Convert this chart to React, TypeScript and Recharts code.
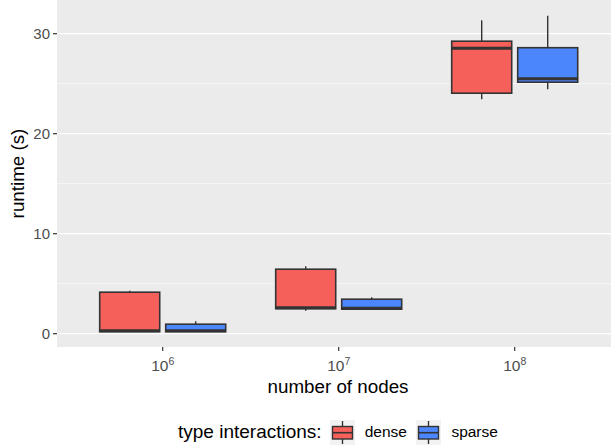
import React from 'react';
import { ComposedChart, Bar, XAxis, YAxis, CartesianGrid, Legend } from 'recharts';

const exponents = [6, 7, 8];

const denseMin = [0.18, 2.3, 23.45];
const denseQ1 = [0.2, 2.5, 24.05];
const denseMedian = [0.3, 2.6, 28.55];
const denseQ3 = [4.15, 6.45, 29.25];
const denseMax = [4.3, 6.75, 31.35];

const sparseMin = [0.18, 2.4, 24.45];
const sparseQ1 = [0.2, 2.45, 25.15];
const sparseMedian = [0.3, 2.55, 25.5];
const sparseQ3 = [0.95, 3.45, 28.6];
const sparseMax = [1.25, 3.65, 31.8];

const yDomain = [-1.33, 33.37];
const majorTicks = [0, 10, 20, 30];
const minorTicks = [5, 15, 25];

const FONT = '"Liberation Sans", Arial, Helvetica, sans-serif';
const DENSE = '#F5605B';
const SPARSE = '#4C86FC';
const OUTLINE = '#333333';

const data = exponents.map((e, i) => ({
  nodes: e,
  dense: [denseMin[i], denseMax[i]],
  denseStats: { min: denseMin[i], q1: denseQ1[i], median: denseMedian[i], q3: denseQ3[i], max: denseMax[i] },
  sparse: [sparseMin[i], sparseMax[i]],
  sparseStats: { min: sparseMin[i], q1: sparseQ1[i], median: sparseMedian[i], q3: sparseQ3[i], max: sparseMax[i] },
}));

const series = [
  { key: 'dense', name: 'dense', color: DENSE },
  { key: 'sparse', name: 'sparse', color: SPARSE },
];

// box drawn inside the [min, max] range bar, values mapped linearly from its pixel extent
const boxShape = (key: string, fill: string) => (props: any) => {
  const { x, y, width, height, payload } = props;
  const s = payload[key + 'Stats'];
  const top = Math.min(y, y + height);
  const bottom = Math.max(y, y + height);
  const k = (bottom - top) / (s.max - s.min);
  const py = (v: number) => bottom - (v - s.min) * k;
  const cx = x + width / 2;
  return (
    <g>
      <line x1={cx} x2={cx} y1={py(s.max)} y2={py(s.q3)} stroke={OUTLINE} strokeWidth={1.4} />
      <line x1={cx} x2={cx} y1={py(s.q1)} y2={py(s.min)} stroke={OUTLINE} strokeWidth={1.4} />
      <rect x={x} y={py(s.q3)} width={width} height={py(s.q1) - py(s.q3)} fill={fill} stroke={OUTLINE} strokeWidth={1.6} />
      <line x1={x} x2={x + width} y1={py(s.median)} y2={py(s.median)} stroke={OUTLINE} strokeWidth={3} />
    </g>
  );
};

const gridAt = (values: number[]) => ({ yAxis, offset }: any) => {
  const sc = yAxis && yAxis.scale;
  if (typeof sc === 'function') return values.map((v) => sc(v));
  if (sc && typeof sc.map === 'function') return values.map((v) => sc.map(v));
  // fallback: linear over the axis domain
  const [lo, hi] = yDomain;
  return values.map((v) => offset.top + (offset.height * (hi - v)) / (hi - lo));
};

const XTick = (props: any) => {
  const { x, y, payload } = props;
  return (
    <text x={x} y={y + 18} textAnchor="middle" fontFamily={FONT} fontSize={15.5} fill="#4D4D4D">
      <tspan>10</tspan>
      <tspan dy={-6} fontSize={10.5}>{payload.value}</tspan>
    </text>
  );
};

const LegendKey = ({ color }: { color: string }) => (
  <svg width={25} height={25} style={{ display: 'block' }}>
    <rect x={0} y={0} width={25} height={25} fill="#F2F2F2" />
    <line x1={12.5} x2={12.5} y1={1} y2={24} stroke={OUTLINE} strokeWidth={1.4} />
    <rect x={2.5} y={6.5} width={20} height={12.5} fill={color} stroke={OUTLINE} strokeWidth={1.4} />
    <line x1={2.5} x2={22.5} y1={12.7} y2={12.7} stroke={OUTLINE} strokeWidth={1.6} />
  </svg>
);

const renderLegend = () => (
  <div style={{ display: 'flex', alignItems: 'center', height: 32, paddingLeft: 178, fontFamily: FONT, color: '#000' }}>
    <span style={{ fontSize: 19, marginRight: 8 }}>type interactions:</span>
    {series.map((s) => (
      <span key={s.key} style={{ display: 'flex', alignItems: 'center', marginRight: 9.5 }}>
        <LegendKey color={s.color} />
        <span style={{ fontSize: 15.5, marginLeft: 10 }}>{s.name}</span>
      </span>
    ))}
  </div>
);

export default function App() {
  return (
    <div style={{ position: 'absolute', left: 0, top: 0, width: 611, height: 448, background: '#fff' }}>
      <ComposedChart
        width={611}
        height={448}
        data={data}
        margin={{ top: 0, right: 0, bottom: 0, left: 0 }}
        barSize={60}
        barGap={6}
      >
        <CartesianGrid
          fill="#EBEBEB"
          stroke="#FFFFFF"
          strokeWidth={0.6}
          vertical={false}
          horizontalCoordinatesGenerator={gridAt(minorTicks)}
        />
        <CartesianGrid
          stroke="#FFFFFF"
          strokeWidth={1.3}
          vertical={false}
          horizontalCoordinatesGenerator={gridAt(majorTicks)}
        />
        <XAxis
          dataKey="nodes"
          type="category"
          height={69}
          padding={{ left: 17.7, right: 8.3 }}
          axisLine={false}
          tickSize={4}
          tickLine={{ stroke: OUTLINE, strokeWidth: 1.2 }}
          tick={<XTick />}
          label={({ viewBox }: any) => (
            <text
              x={viewBox.x + viewBox.width / 2 + 4}
              y={viewBox.y + 46}
              textAnchor="middle"
              fontFamily={FONT}
              fontSize={18.8}
              fill="#000"
            >
              number of nodes
            </text>
          )}
        />
        <YAxis
          type="number"
          domain={yDomain}
          ticks={majorTicks}
          allowDataOverflow
          width={57}
          axisLine={false}
          tickSize={4}
          tickMargin={3}
          tickLine={{ stroke: OUTLINE, strokeWidth: 1.2 }}
          tick={{ fill: '#4D4D4D', fontSize: 15, fontFamily: FONT }}
          label={({ viewBox }: any) => (
            <text
              x={viewBox.x + 24}
              y={viewBox.y + viewBox.height / 2}
              transform={`rotate(-90 ${viewBox.x + 24} ${viewBox.y + viewBox.height / 2})`}
              textAnchor="middle"
              fontFamily={FONT}
              fontSize={18.8}
              fill="#000"
            >
              runtime (s)
            </text>
          )}
        />
        {series.map((s) => (
          <Bar
            key={s.key}
            dataKey={s.key}
            name={s.name}
            fill={s.color}
            shape={boxShape(s.key, s.color)}
            isAnimationActive={false}
          />
        ))}
        <Legend verticalAlign="bottom" content={renderLegend} wrapperStyle={{ left: 0, width: 611, height: 32 }} />
      </ComposedChart>
    </div>
  );
}
